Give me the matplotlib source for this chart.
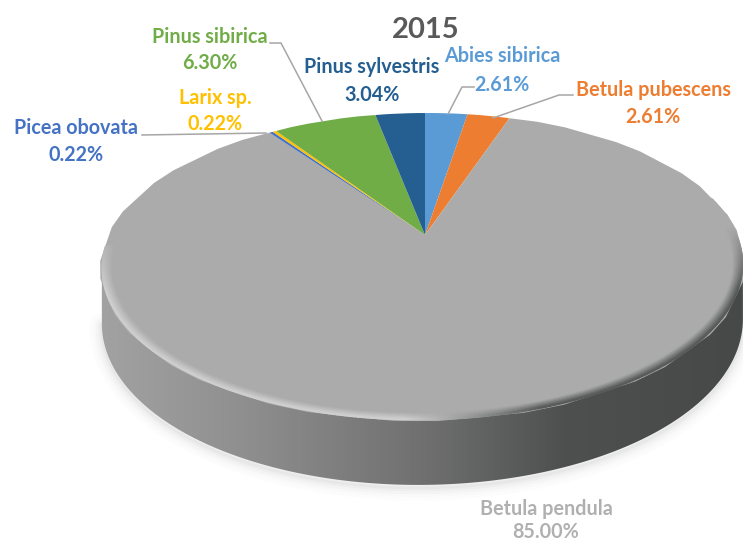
import matplotlib
matplotlib.use("Agg")
import matplotlib.pyplot as plt
import numpy as np
from matplotlib.collections import LineCollection
from matplotlib.colors import LinearSegmentedColormap, to_rgb
from matplotlib.patches import Polygon
from matplotlib.path import Path
from matplotlib.transforms import Transform

species = ["Abies sibirica", "Betula pubescens", "Betula pendula", "Picea obovata",
           "Larix sp.", "Pinus sibirica", "Pinus sylvestris"]
shares = [2.61, 2.61, 85.00, 0.22, 0.22, 6.30, 3.04]
share_labels = ["2.61%", "2.61%", "85.00%", "0.22%", "0.22%", "6.30%", "3.04%"]
slice_colors = ["#5B9BD5", "#ED7D31", "#ABABAB", "#4472C4", "#FFC000", "#70AD47", "#255E91"]
text_colors = ["#5B9BD5", "#ED7D31", "#B0B0B0", "#4472C4", "#FFC000", "#70AD47", "#255E91"]

# perspective of the pie, in image pixels
CX, CY = 425, 235
RX = 313.7
PC, PD, PA = 0.205, 0.008, -98.8


class Persp(Transform):
    input_dims = output_dims = 2

    def transform_non_affine(self, xy):
        xy = np.asarray(xy, dtype=float)
        u, v = xy[:, 0], xy[:, 1]
        w = 1 + PC * v + PD * u
        return np.column_stack([CX + RX * u / w, (PA * v + CY) / w])

    def transform_path_non_affine(self, path):
        fine = path.interpolated(40)
        return Path(self.transform_non_affine(fine.vertices), fine.codes)


persp = Persp()


def rim(theta, r=1.0):
    return persp.transform_non_affine(np.column_stack([r * np.cos(theta), r * np.sin(theta)]))


fig = plt.figure(figsize=(7.43, 5.43), dpi=100)
ax = fig.add_axes([0, 0, 1, 1])

wedges, _ = ax.pie(shares, colors=slice_colors, startangle=90, counterclock=False, radius=1)
ax.set_aspect("auto")
ax.axis("off")
for w in wedges:
    w.set_transform(persp + ax.transData)
    w.set_edgecolor("none")
    w.set_zorder(5)

# side wall: lower half of the rim pushed down, cut at the silhouette points
theta = np.linspace(np.pi + 0.2, 2 * np.pi - 0.2, 300)
top_edge = rim(theta)
bottom_edge = top_edge.copy()
bottom_edge[:, 1] += 52 + 13 * np.clip(-np.sin(theta), 0, 1)
outline = np.vstack([top_edge, bottom_edge[::-1]])

# soft shadow below the wall
for grow, alpha in zip([18, 13, 9, 5, 2], [0.010, 0.013, 0.018, 0.022, 0.028]):
    ax.plot(bottom_edge[:, 0], bottom_edge[:, 1] + 3, color="#000000", lw=grow,
            alpha=alpha, solid_capstyle="round", zorder=1)

wall = LinearSegmentedColormap.from_list("wall", [
    (0.00, "#A2A2A2"), (0.22, "#8F8F8F"), (0.50, "#707070"),
    (0.72, "#4E5050"), (1.00, "#474949")])
img = ax.imshow(np.linspace(0, 1, 300)[None, :], cmap=wall, extent=(100, 745, 500, 200),
                aspect="auto", zorder=2)
clip = Polygon(outline, closed=True, transform=ax.transData, facecolor="none", edgecolor="none")
ax.add_patch(clip)
img.set_clip_path(clip)
ax.set_xlim(0, 743)
ax.set_ylim(543, 0)

# bevel along the near rim: light on the left, dark on the right
face = np.array(to_rgb("#ABABAB"))
light = np.array(to_rgb("#D2D2D2"))
dark = np.array(to_rgb("#505252"))
ring_theta = np.linspace(np.pi * 1.02, np.pi * 2.08, 300)
mids = (ring_theta[:-1] + ring_theta[1:]) / 2
for r, amt in zip(np.linspace(0.972, 0.998, 9), np.linspace(0.05, 0.9, 9)):
    pts = rim(ring_theta, r)
    segs = np.stack([pts[:-1], pts[1:]], axis=1)
    side = np.cos(mids)[:, None]          # -1 left .. +1 right
    tone = np.clip((side + 0.05) / 0.35, 0, 1)
    edge = light * (1 - tone) + dark * tone
    fade = (amt * np.clip((-np.sin(mids) + 0.05) * 2.5, 0, 1))[:, None]
    cols = face * (1 - fade) + edge * fade
    ax.add_collection(LineCollection(segs, colors=cols, linewidths=1.5, zorder=6,
                                     capstyle="round"))

# leader lines
leaders = [[(474, 87), (462, 87), (448, 114)],
           [(573, 95), (559, 95), (493, 118)],
           [(270, 43), (281, 43), (322, 121)],
           [(142, 135), (266, 133)]]
for line in leaders:
    xs, ys = zip(*line)
    ax.plot(xs, ys, color="#A6A6A6", lw=1.1, zorder=7)

name_pos = [(502, 56), (653, 90), (546, 509), (76, 128), (215, 98), (210, 37), (372, 67)]
share_pos = [(502, 85), (653, 117), (546, 532), (76, 155), (215, 124), (210, 63), (372, 95)]
font = ["Lato", "DejaVu Sans"]
for i, name in enumerate(species):
    col = text_colors[i]
    ax.text(*name_pos[i], name, color=col, fontsize=14.2, fontweight="bold", family=font,
            ha="center", va="center", zorder=8)
    ax.text(*share_pos[i], share_labels[i], color=col, fontsize=14.2, fontweight="bold",
            family=font, ha="center", va="center", zorder=8)

ax.text(426, 30, "2015", color="#595959", fontsize=21, fontweight="bold", family=font,
        ha="center", va="center", zorder=8)

fig.savefig("out.png", dpi=100)
